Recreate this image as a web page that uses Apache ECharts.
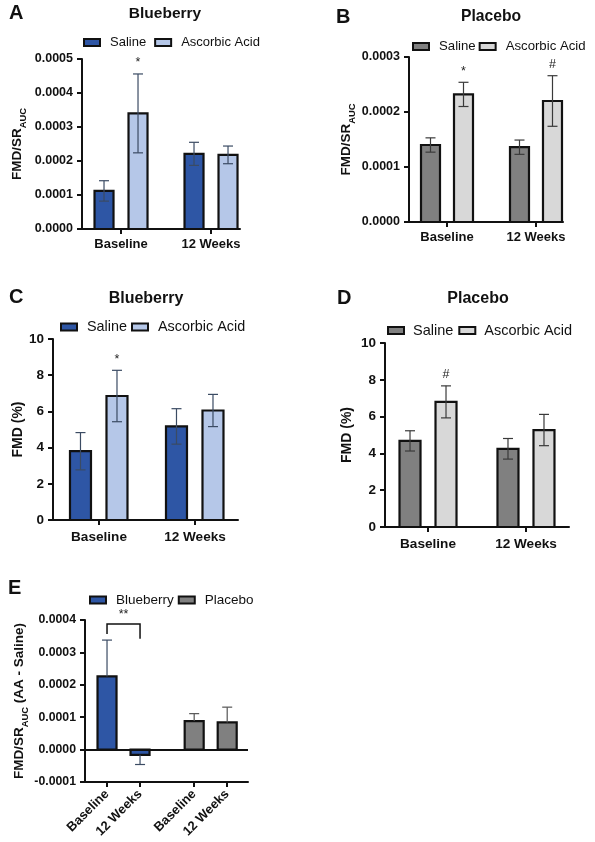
<!DOCTYPE html>
<html><head><meta charset="utf-8">
<script src="https://cdn.jsdelivr.net/npm/echarts@6/dist/echarts.min.js"></script>
<style>html,body{margin:0;padding:0;background:#fff}#c{width:595px;height:842px}</style>
</head><body><div id="c"></div>
<script>
// ---------- DATA ----------
const groups = ['Baseline', '12 Weeks'];
// Panel A – Blueberry, FMD/SR_AUC
const aSaline = [0.000112, 0.000221];
const aSalineSem = [0.00003, 0.000034];
const aAA = [0.00034, 0.000218];
const aAASem = [0.000116, 0.000026];
const aAAMarks = ['*', ''];
// Panel B – Placebo, FMD/SR_AUC
const bSaline = [0.00014, 0.000136];
const bSalineSem = [0.000013, 0.000013];
const bAA = [0.000232, 0.00022];
const bAASem = [0.000022, 0.000046];
const bAAMarks = ['*', '#'];
// Panel C – Blueberry, FMD (%)
const cSaline = [3.8, 5.17];
const cSalineSem = [1.03, 0.98];
const cAA = [6.85, 6.05];
const cAASem = [1.42, 0.89];
const cAAMarks = ['*', ''];
// Panel D – Placebo, FMD (%)
const dSaline = [4.68, 4.25];
const dSalineSem = [0.55, 0.56];
const dAA = [6.8, 5.27];
const dAASem = [0.87, 0.85];
const dAAMarks = ['#', ''];
// Panel E – AA minus Saline
const eCats = ['Baseline', '12 Weeks', 'Baseline', '12 Weeks'];
const eBlueberry = [0.000226, -0.000016];
const eBlueberrySem = [0.000112, 0.00003];
const ePlacebo = [0.000088, 0.000084];
const ePlaceboSem = [0.000023, 0.000047];
const eSig = { from: 0, to: 1, level: 0.000388, leftEnd: 0.000357, rightEnd: 0.000342, label: '**' };

// ---------- STYLE ----------
const FONT = 'Liberation Sans, Arial, Helvetica, sans-serif';
const INK = '#111';
const BLUE = '#2E56A5', LBLUE = '#B5C7E8', GRAY = '#808080', LGRAY = '#D8D8D8';
const ERR_B = '#3b4b63', ERR_G = '#3a3a3a';

const panels = [
  { grid: { left: 82, top: 59, width: 158, height: 170 }, xMin: 0.133, xMax: 3.644, pos: [1, 3], labels: groups,
    yMin: 0, yMax: 0.0005, yInt: 0.0001, dec: 4, tickFont: 12.5, catFont: 13, nameGap: 54, catMargin: 9 },
  { grid: { left: 409, top: 57, width: 154, height: 165 }, xMin: 0.146, xMax: 3.607, pos: [1, 3], labels: groups,
    yMin: 0, yMax: 0.0003, yInt: 0.0001, dec: 4, tickFont: 12.5, catFont: 13, nameGap: 52, catMargin: 9 },
  { grid: { left: 53, top: 339, width: 185, height: 181 }, xMin: 0.042, xMax: 3.896, pos: [1, 3], labels: groups,
    yMin: 0, yMax: 10, yInt: 2, dec: 0, tickFont: 13.5, catFont: 13.6, nameGap: 26, catMargin: 10 },
  { grid: { left: 385, top: 343, width: 184, height: 184 }, xMin: 0.122, xMax: 3.878, pos: [1, 3], labels: groups,
    yMin: 0, yMax: 10, yInt: 2, dec: 0, tickFont: 13.5, catFont: 13.6, nameGap: 31, catMargin: 10 },
  { grid: { left: 85, top: 620, width: 163, height: 162 }, xMin: 0.333, xMax: 5.27, pos: [1, 2, 3.64, 4.64], labels: eCats,
    yMin: -0.0001, yMax: 0.0004, yInt: 0.0001, dec: 4, tickFont: 12.3, catFont: 13, nameGap: 54, catMargin: 10, rotate: 45 }
];

const subName = (main, sub, tail) => '{a|' + main + '}{s|' + sub + '}' + (tail ? '{a|' + tail + '}' : '');
const nameRich = fs => ({
  a: { fontSize: fs, fontWeight: 'bold', fontFamily: FONT, color: INK, lineHeight: 18, verticalAlign: 'top' },
  s: { fontSize: fs * 0.7, fontWeight: 'bold', fontFamily: FONT, color: INK, lineHeight: 10, verticalAlign: 'bottom' }
});
const yNames = [subName('FMD/SR', 'AUC'), subName('FMD/SR', 'AUC'), 'FMD (%)', 'FMD (%)', subName('FMD/SR', 'AUC', ' (AA - Saline)')];

const grids = panels.map(p => p.grid);
const xAxes = panels.map((p, k) => ({
  type: 'value', gridIndex: k, min: p.xMin, max: p.xMax,
  splitLine: { show: false },
  axisLine: { onZero: false, lineStyle: { color: INK, width: 2 } },
  axisTick: { customValues: p.pos, length: 5, lineStyle: { color: INK, width: 2 } },
  axisLabel: {
    customValues: p.pos, margin: p.catMargin, rotate: p.rotate || 0,
    fontFamily: FONT, fontWeight: 'bold', fontSize: p.catFont, color: INK,
    formatter: v => {
      let best = 0;
      p.pos.forEach((q, i) => { if (Math.abs(q - v) < Math.abs(p.pos[best] - v)) best = i; });
      return p.labels[best];
    }
  }
}));
const yAxes = panels.map((p, k) => ({
  type: 'value', gridIndex: k, min: p.yMin, max: p.yMax, interval: p.yInt,
  splitLine: { show: false },
  axisLine: { show: true, onZero: false, lineStyle: { color: INK, width: 2 } },
  axisTick: { show: true, length: 5, lineStyle: { color: INK, width: 2 } },
  axisLabel: { margin: 9, fontFamily: FONT, fontWeight: 'bold', fontSize: p.tickFont, color: INK,
    formatter: v => v.toFixed(p.dec) },
  name: yNames[k], nameLocation: 'middle', nameGap: p.nameGap, nameRotate: 90,
  nameTextStyle: { fontFamily: FONT, fontWeight: 'bold', fontSize: (k === 2 || k === 3) ? 14 : 13.5, color: INK,
    rich: nameRich(13.5) }
}));

function barSeries(k, name, values, sems, marks, offset, width, fill, errColor, oneSided) {
  const p = panels[k];
  const posIdx = oneSided ? (name === 'Blueberry' ? [0, 1] : [2, 3]) : [0, 1];
  return {
    type: 'custom', name: name, xAxisIndex: k, yAxisIndex: k,
    itemStyle: { color: fill, borderColor: INK, borderWidth: 2 },
    data: values.map((v, i) => [p.pos[posIdx[i]], v, sems[i], i]),
    renderItem: (params, api) => {
      const x = api.value(0), v = api.value(1), s = api.value(2), i = params.dataIndex;
      const p0 = api.coord([x, 0]), p1 = api.coord([x, v]);
      const cx = p0[0] + offset;
      const yTop = Math.min(p0[1], p1[1]), h = Math.abs(p1[1] - p0[1]);
      const w = width - 2;
      const children = [{
        type: 'rect', shape: { x: cx - w / 2, y: yTop, width: w, height: h },
        style: { fill: fill, stroke: INK, lineWidth: 2.2 }
      }];
      let outer = api.coord([x, v >= 0 ? v + s : v - s])[1];
      let inner = oneSided ? p1[1] : api.coord([x, v >= 0 ? v - s : v + s])[1];
      const cap = 5;
      const es = { stroke: errColor, lineWidth: 1.2 };
      children.push({ type: 'line', shape: { x1: cx, y1: outer, x2: cx, y2: inner }, style: es });
      children.push({ type: 'line', shape: { x1: cx - cap, y1: outer, x2: cx + cap, y2: outer }, style: es });
      if (!oneSided) children.push({ type: 'line', shape: { x1: cx - cap, y1: inner, x2: cx + cap, y2: inner }, style: es });
      if (marks && marks[i]) {
        children.push({ type: 'text', style: { text: marks[i], x: cx, y: Math.min(outer, inner) - 11,
          align: 'center', verticalAlign: 'middle', textAlign: 'center', textVerticalAlign: 'middle',
          font: '12.5px ' + FONT, fill: '#222' } });
      }
      return { type: 'group', children: children };
    }
  };
}

const series = [
  barSeries(0, 'Saline', aSaline, aSalineSem, null, -17, 21, BLUE, ERR_B, false),
  barSeries(0, 'Ascorbic Acid', aAA, aAASem, aAAMarks, 17, 21, LBLUE, ERR_B, false),
  barSeries(1, 'Saline', bSaline, bSalineSem, null, -16.5, 21, GRAY, ERR_G, false),
  barSeries(1, 'Ascorbic Acid', bAA, bAASem, bAAMarks, 16.5, 21, LGRAY, ERR_G, false),
  barSeries(2, 'Saline', cSaline, cSalineSem, null, -18.5, 23, BLUE, ERR_B, false),
  barSeries(2, 'Ascorbic Acid', cAA, cAASem, cAAMarks, 18, 23, LBLUE, ERR_B, false),
  barSeries(3, 'Saline', dSaline, dSalineSem, null, -18, 23, GRAY, ERR_G, false),
  barSeries(3, 'Ascorbic Acid', dAA, dAASem, dAAMarks, 18, 23, LGRAY, ERR_G, false),
  barSeries(4, 'Blueberry', eBlueberry, eBlueberrySem, null, 0, 21, BLUE, ERR_B, true),
  barSeries(4, 'Placebo', ePlacebo, ePlaceboSem, null, 0, 21, GRAY, '#555', true),
  {
    type: 'custom', name: 'sig', xAxisIndex: 4, yAxisIndex: 4, silent: true, z: 5,
    data: [[panels[4].pos[eSig.from], panels[4].pos[eSig.to], eSig.level, eSig.leftEnd, eSig.rightEnd]],
    markLine: { silent: true, symbol: 'none', label: { show: false },
      lineStyle: { color: INK, width: 2, type: 'solid' }, data: [{ yAxis: 0 }] },
    renderItem: (params, api) => {
      const a = api.coord([api.value(0), api.value(2)]);
      const b = api.coord([api.value(1), api.value(2)]);
      const la = api.coord([api.value(0), api.value(3)]);
      const rb = api.coord([api.value(1), api.value(4)]);
      return { type: 'group', children: [
        { type: 'polyline', shape: { points: [[la[0], la[1]], [a[0], a[1]], [b[0], b[1]], [rb[0], rb[1]]] },
          style: { stroke: INK, lineWidth: 1.5, fill: null } },
        { type: 'text', style: { text: eSig.label, x: (a[0] + b[0]) / 2, y: a[1] - 9, align: 'center', verticalAlign: 'middle',
          textAlign: 'center', textVerticalAlign: 'middle', font: '12.5px ' + FONT, fill: '#222' } }
      ] };
    }
  }
];

const mkLegend = (left, top, fs, names, colors, gapText, itemGap) => ({
  left: left, top: top, width: 260, padding: 0, orient: 'horizontal', icon: 'rect', itemWidth: 16, itemHeight: 7, itemGap: itemGap,
  selectedMode: false,
  textStyle: { fontFamily: FONT, fontSize: fs, color: INK, padding: [0, 0, 0, gapText] },
  data: names.map((n, i) => ({ name: n, itemStyle: { color: colors[i], borderColor: INK, borderWidth: 2 } }))
});
const legends = [
  mkLegend(83, 36, 13, ['Saline', 'Ascorbic Acid'], [BLUE, LBLUE], 5, 8),
  mkLegend(412, 40, 13.2, ['Saline', 'Ascorbic Acid'], [GRAY, LGRAY], 5, 3),
  mkLegend(60, 320, 14.4, ['Saline', 'Ascorbic Acid'], [BLUE, LBLUE], 5, 4),
  mkLegend(387, 323, 14.5, ['Saline', 'Ascorbic Acid'], [GRAY, LGRAY], 4, 5),
  mkLegend(89, 593, 13.5, ['Blueberry', 'Placebo'], [BLUE, GRAY], 5, 4)
];

const txt = (x, y, t, font, align) => ({ type: 'text', x: x, y: y, silent: true,
  style: { text: t, font: font, fill: INK, align: align || 'center', verticalAlign: 'middle',
    textAlign: align || 'center', textVerticalAlign: 'middle' } });
const graphics = [
  txt(9, 13, 'A', 'bold 20px ' + FONT, 'left'),
  txt(336, 17, 'B', 'bold 20px ' + FONT, 'left'),
  txt(9, 297, 'C', 'bold 20px ' + FONT, 'left'),
  txt(337, 298, 'D', 'bold 20px ' + FONT, 'left'),
  txt(8, 588, 'E', 'bold 20px ' + FONT, 'left'),
  txt(165, 14, 'Blueberry', 'bold 15.5px ' + FONT),
  txt(491, 17, 'Placebo', 'bold 15.7px ' + FONT),
  txt(146, 299, 'Blueberry', 'bold 16px ' + FONT),
  txt(478, 299, 'Placebo', 'bold 16px ' + FONT)
];

const chart = echarts.init(document.getElementById('c'), null, { renderer: 'canvas' });
chart.setOption({
  animation: false,
  backgroundColor: '#fff',
  grid: grids, xAxis: xAxes, yAxis: yAxes, legend: legends, series: series, graphic: graphics
});
</script></body></html>
